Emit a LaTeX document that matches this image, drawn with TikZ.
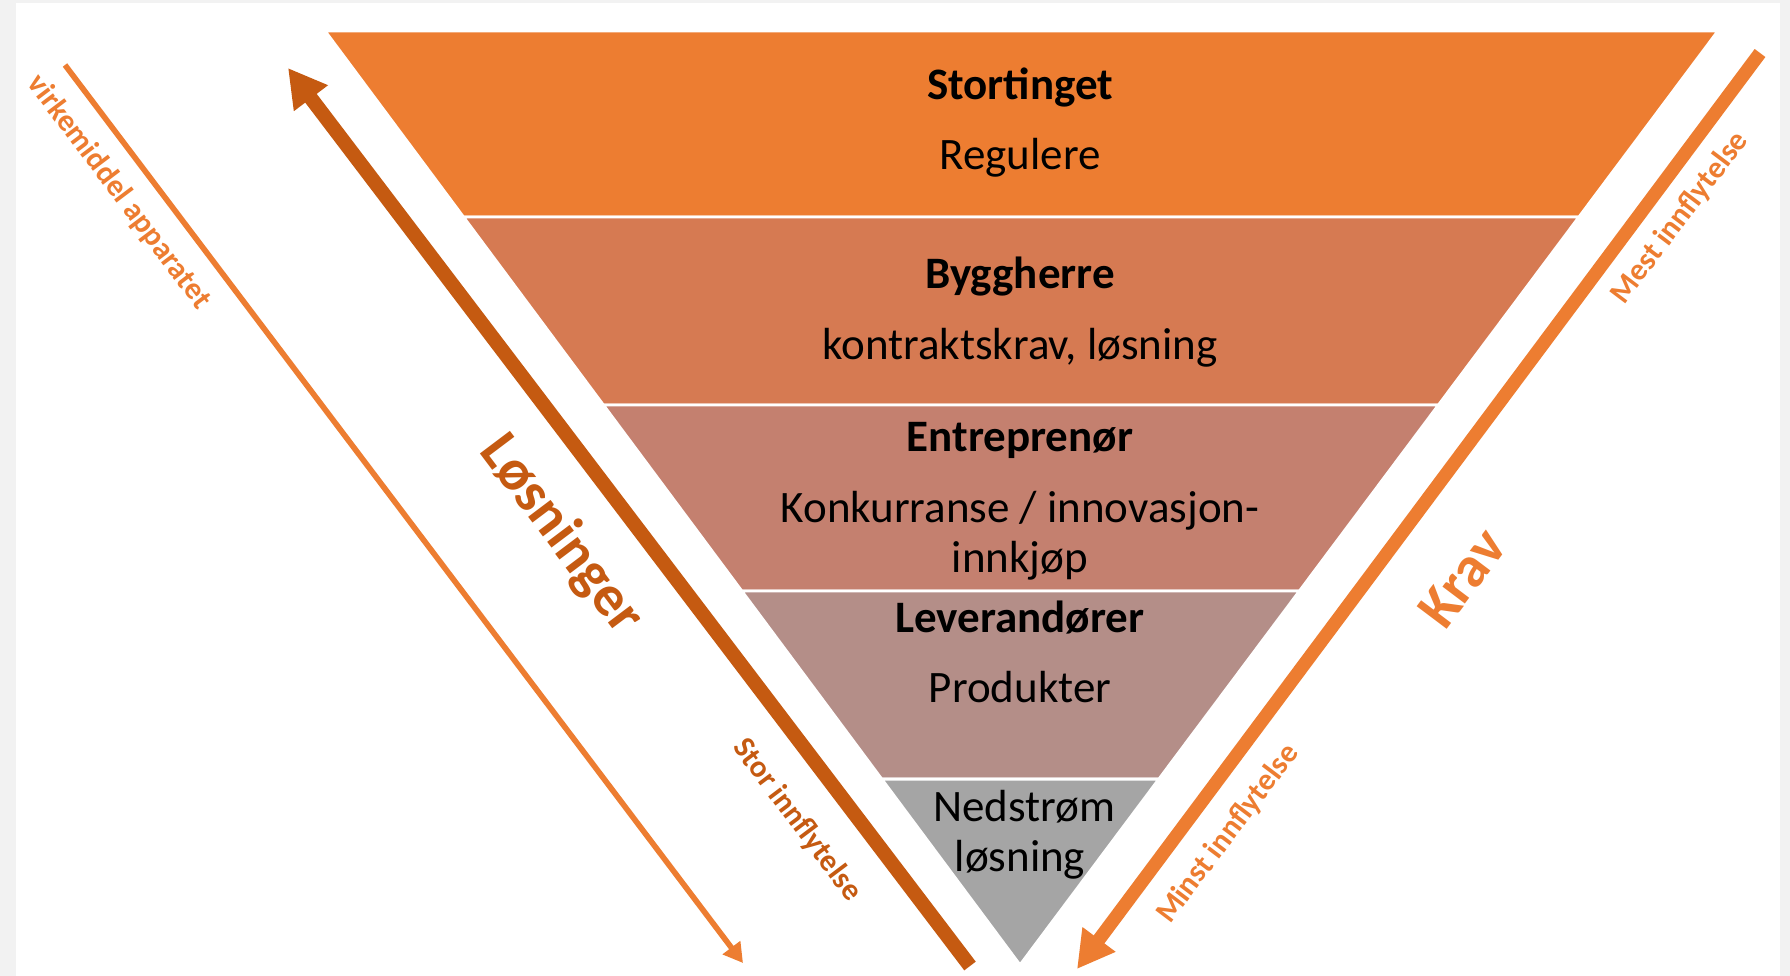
\documentclass[tikz,border=0pt]{standalone}
\usepackage{fontspec}
\setmainfont{Carlito}
\usetikzlibrary{arrows.meta}

\definecolor{oransje}{HTML}{ED7D31}
\definecolor{morkoransje}{HTML}{C55A11}
\definecolor{lag1}{HTML}{ED7D31}
\definecolor{lag2}{HTML}{D67A52}
\definecolor{lag3}{HTML}{C4806F}
\definecolor{lag4}{HTML}{B48E88}
\definecolor{lag5}{HTML}{A5A5A5}
\definecolor{bakgrunn}{HTML}{F2F2F2}

\begin{document}
\begin{tikzpicture}[
    tittel/.style={font=\fontsize{12.8}{14.2}\selectfont\bfseries, anchor=base},
    tekst/.style={font=\fontsize{12.8}{14.2}\selectfont, anchor=base},
    stor/.style={font=\fontsize{16.5}{19}\selectfont\bfseries},
    liten/.style={font=\fontsize{8.8}{10}\selectfont\bfseries}]

    \useasboundingbox (0,0) rectangle (17.90,-9.76);
    %Bakgrunn
        \fill[bakgrunn] (0,0) rectangle (17.90,-9.76);
        \fill[white] (0.16,-0.035) rectangle (17.80,-9.76);

    %Trakt
        \filldraw[fill=lag1, draw=white, line width=0.85pt] (3.25,-0.31)--(17.18,-0.31)--(15.79,-2.17)--(4.634,-2.17)--cycle;
        \filldraw[fill=lag2, draw=white, line width=0.85pt] (4.634,-2.17)--(15.79,-2.17)--(14.385,-4.05)--(6.033,-4.05)--cycle;
        \filldraw[fill=lag3, draw=white, line width=0.85pt] (6.033,-4.05)--(14.385,-4.05)--(12.995,-5.91)--(7.417,-5.91)--cycle;
        \filldraw[fill=lag4, draw=white, line width=0.85pt] (7.417,-5.91)--(12.995,-5.91)--(11.59,-7.79)--(8.816,-7.79)--cycle;
        \filldraw[fill=lag5, draw=white, line width=0.85pt] (8.816,-7.79)--(11.59,-7.79)--(10.20,-9.65)--cycle;

    %Tekst i trakten
        \node[tittel] (stortinget) at (10.20,-1.00) {Stortinget};
        \node[tekst] (regulere) at (10.20,-1.70) {Regulere};
        \node[tittel] (byggherre) at (10.20,-2.88) {Byggherre};
        \node[tekst] (kontraktskrav) at (10.20,-3.59) {kontraktskrav, løsning};
        \node[tittel] (entreprenor) at (10.20,-4.51) {Entreprenør};
        \node[tekst] (konkurranse) at (10.20,-5.22) {Konkurranse / innovasjon-};
        \node[tekst] (innkjop) at (10.20,-5.72) {innkjøp};
        \node[tittel] (leverandorer) at (10.20,-6.32) {Leverandører};
        \node[tekst] (produkter) at (10.20,-7.02) {Produkter};
        \node[tekst] (nedstrom) at (10.24,-8.21) {Nedstrøm};
        \node[tekst] (losning) at (10.20,-8.71) {løsning};

    %Piler
        \coordinate (virkstart) at (0.65,-0.65);
        \coordinate (virkslutt) at (7.43,-9.63);
        \coordinate (losstart) at (9.70,-9.66);
        \coordinate (losslutt) at (2.88,-0.68);
        \coordinate (kravstart) at (17.60,-0.53);
        \coordinate (kravslutt) at (10.77,-9.69);
        \draw[oransje, line width=1.6pt, -{Triangle[length=5.5pt,width=6pt]}] (virkstart)--(virkslutt);
        \draw[morkoransje, line width=4.1pt, -{Triangle[length=10.8pt,width=11.4pt]}] (losstart)--(losslutt);
        \draw[oransje, line width=3.8pt, -{Triangle[length=10.5pt,width=11pt]}] (kravstart)--(kravslutt);

    %Tekst langs pilene
        \node[liten, text=oransje, rotate=-53] (virkemiddel) at (1.19,-1.92) {virkemiddel apparatet};
        \node[stor, text=morkoransje, rotate=-53] (losninger) at (5.61,-5.35) {Løsninger};
        \node[liten, text=morkoransje, rotate=-53] (storinn) at (7.97,-8.20) {Stor innflytelse};
        \node[stor, text=oransje, rotate=53] (krav) at (14.62,-5.78) {Krav};
        \node[liten, text=oransje, rotate=53] (mestinn) at (16.80,-2.18) {Mest innflytelse};
        \node[liten, text=oransje, rotate=53] (minstinn) at (12.28,-8.34) {Minst innflytelse};
\end{tikzpicture}
\end{document}
